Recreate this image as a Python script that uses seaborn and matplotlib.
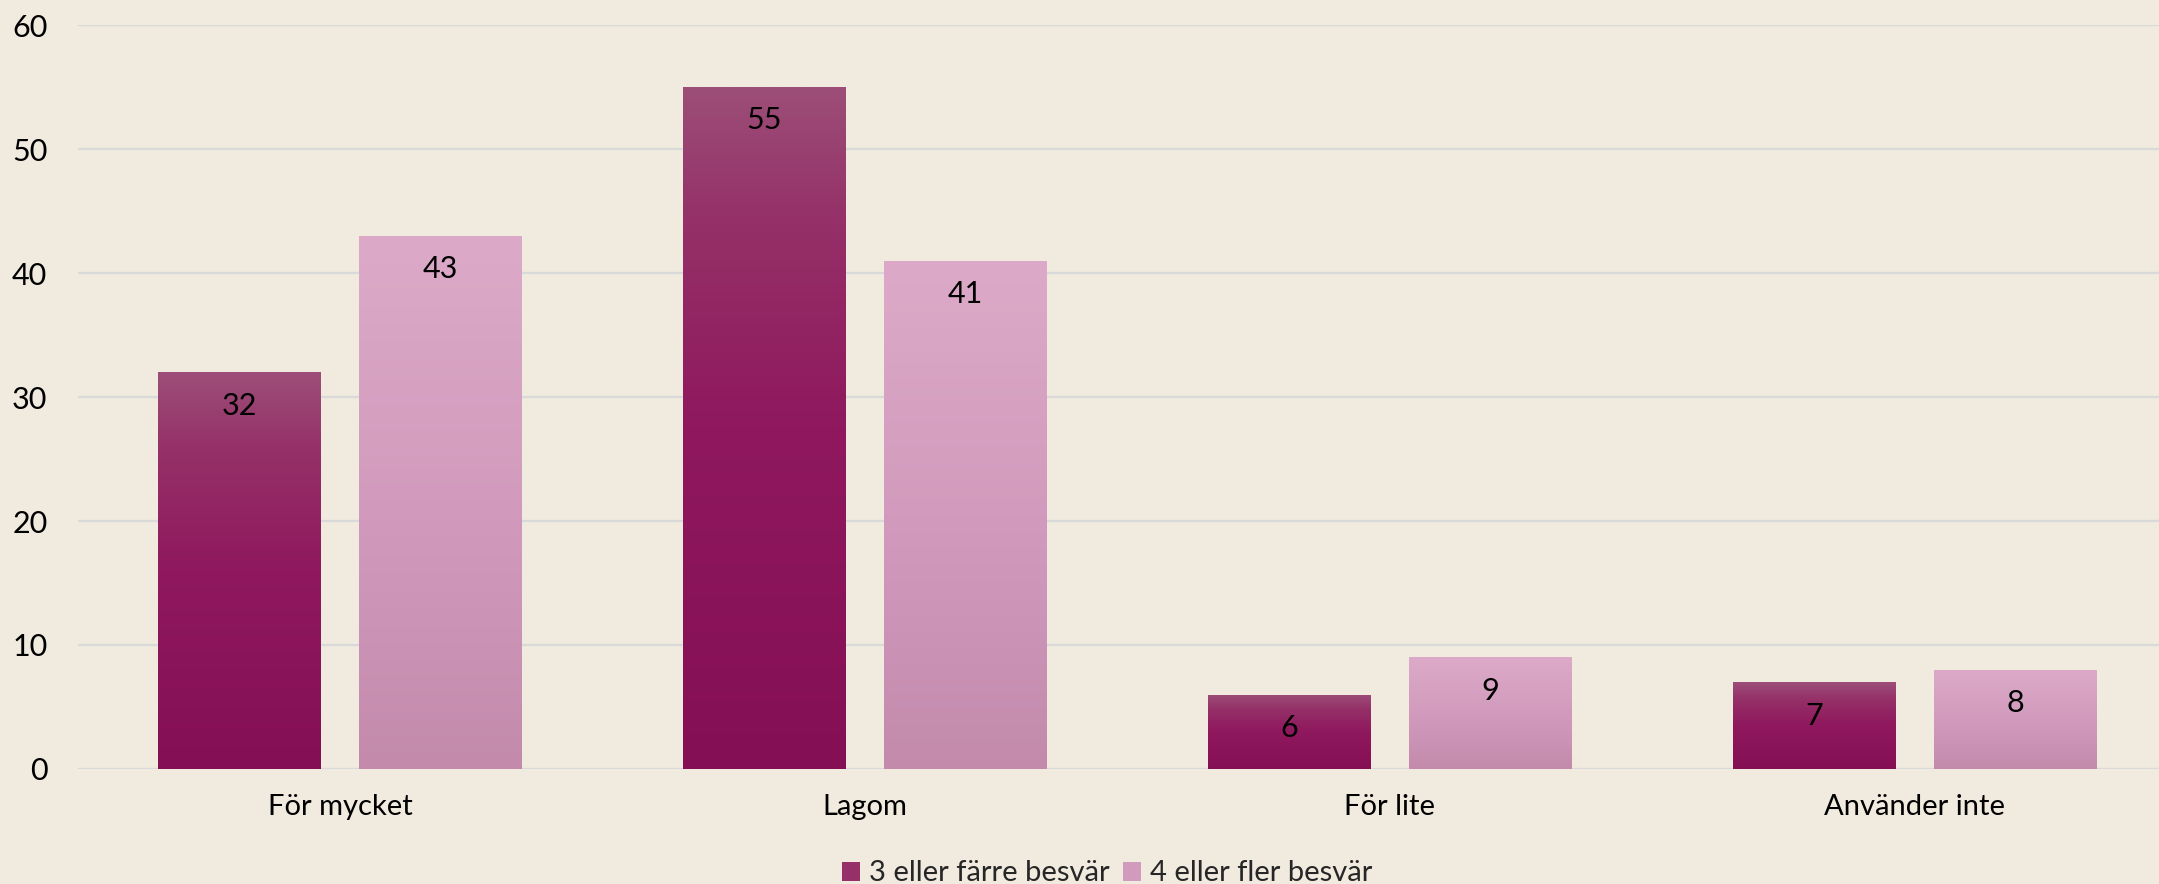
import numpy as np
import pandas as pd
import matplotlib
matplotlib.use("Agg")
import matplotlib.pyplot as plt
import seaborn as sns
from matplotlib.colors import LinearSegmentedColormap
from matplotlib.patches import Patch

categories = ["För mycket", "Lagom", "För lite", "Använder inte"]
series_names = ["3 eller färre besvär", "4 eller fler besvär"]
values_few = [32, 55, 6, 7]
values_many = [43, 41, 9, 8]
y_ticks = [0, 10, 20, 30, 40, 50, 60]

bg = "#F0EADF"
# gradient stops from bottom (0) to top (1)
grad = {
    series_names[0]: [(0.0, "#850F55"), (0.5, "#8F185E"), (0.8, "#953068"), (1.0, "#9C4E78")],
    series_names[1]: [(0.0, "#C38AAC"), (0.5, "#D29BBD"), (1.0, "#DCAAC8")],
}

sns.set_theme(style="white")
plt.rcParams["font.family"] = ["Lato", "DejaVu Sans"]

df = pd.DataFrame({
    "kategori": categories * 2,
    "grupp": [series_names[0]] * 4 + [series_names[1]] * 4,
    "värde": values_few + values_many,
})

fig = plt.figure(figsize=(21.59, 8.84), dpi=100, facecolor=bg)
ax = fig.add_axes([0.0361, 0.1301, 0.9722, 0.8416])
ax.set_facecolor(bg)

palette = {k: v[0][1] for k, v in grad.items()}
sns.barplot(data=df, x="kategori", y="värde", hue="grupp", order=categories,
            hue_order=series_names, palette=palette, width=0.766, gap=0.189,
            legend=False, ax=ax, saturation=1, linewidth=0, zorder=3)

ax.set_yticks(y_ticks)
ax.yaxis.grid(True, color="#D9D9D9", linewidth=1.6, zorder=0)
ax.set_axisbelow(True)
for s in ax.spines.values():
    s.set_visible(False)
ax.tick_params(axis="y", length=0, pad=22, labelsize=22, labelcolor="black")
ax.tick_params(axis="x", length=0, pad=18, labelsize=21, labelcolor="black")
ax.set_xlabel("")
ax.set_ylabel("")

# gradient fill clipped to each bar
for container, name, vals in zip(ax.containers, series_names, [values_few, values_many]):
    cmap = LinearSegmentedColormap.from_list(name, grad[name])
    for patch, v in zip(container.patches, vals):
        x0, y0 = patch.get_x(), patch.get_y()
        w, h = patch.get_width(), patch.get_height()
        g = np.linspace(0, 1, 256).reshape(-1, 1)
        im = ax.imshow(g, cmap=cmap, origin="lower", aspect="auto",
                       extent=[x0, x0 + w, y0, y0 + h], zorder=4,
                       interpolation="bilinear")
        im.set_clip_path(patch)
        ax.annotate(f"{v}", xy=(x0 + w / 2, y0 + h), xytext=(0, -24),
                    textcoords="offset points", ha="center", va="center",
                    fontsize=22, color="black", zorder=5)
ax.set_xlim(-0.5, len(categories) - 0.5)
ax.set_ylim(0, 60)

handles = [Patch(facecolor=grad[n][len(grad[n]) // 2][1], edgecolor="none") for n in series_names]
fig.legend(handles, series_names, loc="center", bbox_to_anchor=(0.5128, 0.012),
           ncol=2, frameon=False, fontsize=21, handlelength=0.62, handleheight=0.62,
           handletextpad=0.3, columnspacing=0.45)

fig.savefig("out.png", dpi=100, facecolor=bg)
